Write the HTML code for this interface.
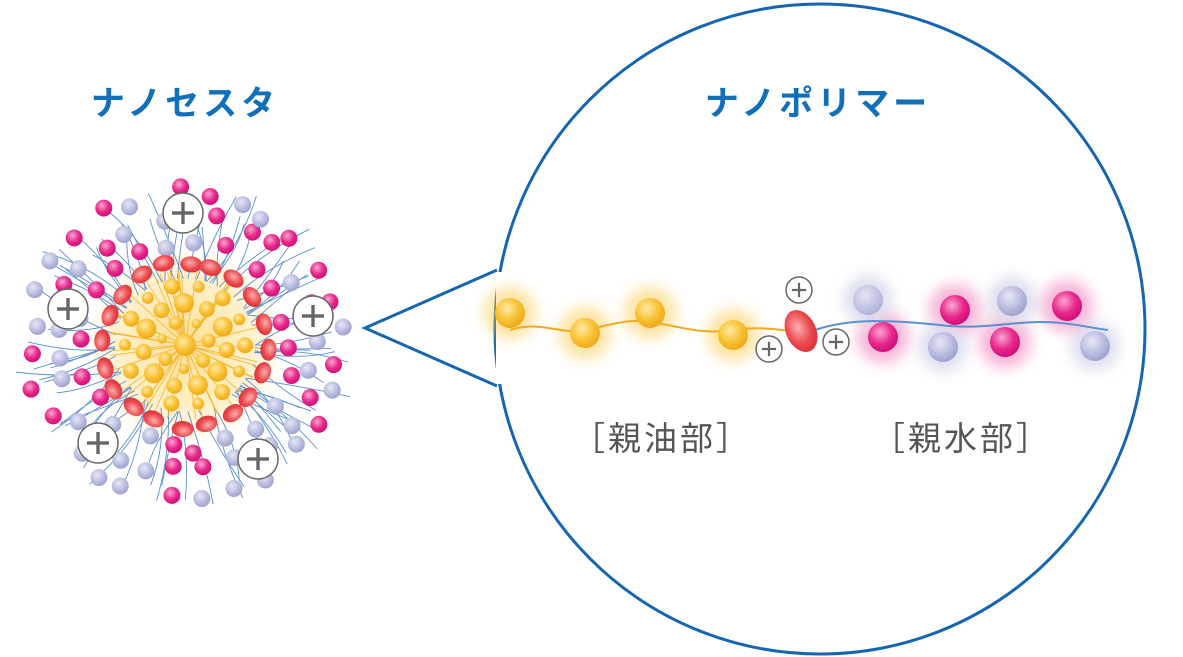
<!DOCTYPE html>
<html><head><meta charset="utf-8"><style>
html,body{margin:0;padding:0;background:#fff;width:1183px;height:657px;overflow:hidden}
svg{display:block}
.t{font-family:"Liberation Sans","Noto Sans CJK JP",sans-serif;}
</style></head><body>
<svg id="s" width="1183" height="657" viewBox="0 0 1183 657" xmlns="http://www.w3.org/2000/svg">
<defs>
<radialGradient id="gy" cx="40%" cy="35%" r="65%"><stop offset="0" stop-color="#ffe9a8"/><stop offset=".6" stop-color="#f9c233"/><stop offset="1" stop-color="#eeaa1a"/></radialGradient>
<radialGradient id="gr" cx="45%" cy="40%" r="65%"><stop offset="0" stop-color="#fbb0b0"/><stop offset=".6" stop-color="#ec4a4e"/><stop offset="1" stop-color="#d62d36"/></radialGradient>
<radialGradient id="gp" cx="40%" cy="35%" r="65%"><stop offset="0" stop-color="#f9a8d0"/><stop offset=".6" stop-color="#e8288a"/><stop offset="1" stop-color="#d0107a"/></radialGradient>
<radialGradient id="gb" cx="40%" cy="35%" r="65%"><stop offset="0" stop-color="#e6e8f6"/><stop offset=".7" stop-color="#b4b7dc"/><stop offset="1" stop-color="#9fa3d0"/></radialGradient>
<radialGradient id="glow" cx="50%" cy="50%" r="50%"><stop offset="0" stop-color="#fbd060" stop-opacity=".7"/><stop offset=".7" stop-color="#fbd060" stop-opacity=".3"/><stop offset="1" stop-color="#fbd060" stop-opacity="0"/></radialGradient>
<filter id="bl" x="-50%" y="-50%" width="200%" height="200%"><feGaussianBlur stdDeviation="7"/></filter>
</defs>
<circle cx="820" cy="329" r="325" fill="#fff" stroke="#1565b0" stroke-width="3"/>
<polyline points="497,270 365,328 497,386" fill="none" stroke="#1565b0" stroke-width="3"/>
<line x1="499" y1="272" x2="499" y2="384" stroke="#fff" stroke-width="6"/>
<text class="t" x="185" y="115" font-size="34" fill="#1170b8" text-anchor="middle" letter-spacing="4" font-weight="bold">ナノセスタ</text>
<text class="t" x="818" y="115" font-size="34" fill="#1170b8" text-anchor="middle" letter-spacing="4" font-weight="bold">ナノポリマー</text>
<text class="t" x="662" y="450" font-size="33" fill="#555" text-anchor="middle" letter-spacing="3">［親油部］</text>
<text class="t" x="962" y="450" font-size="33" fill="#555" text-anchor="middle" letter-spacing="3">［親水部］</text>
<g id="sphere"></g>
<g id="chain">
<g filter="url(#bl)" opacity=".45">
<circle cx="510" cy="313" r="26" fill="#f9c233"/><circle cx="585" cy="333" r="26" fill="#f9c233"/>
<circle cx="650" cy="313" r="26" fill="#f9c233"/><circle cx="733" cy="335" r="26" fill="#f9c233"/>
<circle cx="883" cy="337" r="26" fill="#ee5aa8"/><circle cx="955" cy="310" r="26" fill="#ee5aa8"/>
<circle cx="1005" cy="342" r="26" fill="#ee5aa8"/><circle cx="1067" cy="306" r="26" fill="#ee5aa8"/>
<circle cx="943" cy="347" r="24" fill="#b4b7dc"/><circle cx="1095" cy="346" r="24" fill="#b4b7dc"/>
<circle cx="868" cy="300" r="24" fill="#b4b7dc"/><circle cx="1012" cy="301" r="24" fill="#b4b7dc"/>
</g>
<path d="M510,330 C540,320 560,335 585,330 C610,325 630,318 650,322 C680,326 700,335 732,330 C760,326 780,330 800,332" fill="none" stroke="#f2a820" stroke-width="2"/>
<path d="M815,330 C850,318 890,320 940,325 C980,330 1010,322 1040,322 C1070,322 1090,328 1108,330" fill="none" stroke="#5b8fd0" stroke-width="2"/>
<circle cx="510" cy="313" r="15" fill="url(#gy)"/>
<circle cx="585" cy="333" r="15" fill="url(#gy)"/>
<circle cx="650" cy="313" r="15" fill="url(#gy)"/>
<circle cx="733" cy="335" r="15" fill="url(#gy)"/>
<circle cx="868" cy="300" r="15" fill="url(#gb)" opacity=".75"/>
<circle cx="1012" cy="301" r="15" fill="url(#gb)"/>
<circle cx="943" cy="347" r="15" fill="url(#gb)"/>
<circle cx="1095" cy="346" r="15" fill="url(#gb)"/>
<circle cx="883" cy="337" r="15" fill="url(#gp)"/>
<circle cx="955" cy="310" r="15" fill="url(#gp)"/>
<circle cx="1005" cy="342" r="15" fill="url(#gp)"/>
<circle cx="1067" cy="306" r="15" fill="url(#gp)"/>
<ellipse cx="801" cy="331" rx="15" ry="22" transform="rotate(-25 801 331)" fill="url(#gr)"/>
</g>
<g id="plus"></g>
</svg>
<script>
(function(){
var NS="http://www.w3.org/2000/svg";
var seed=11;function r(){seed=(seed*16807)%2147483647;return (seed-1)/2147483646;}
var sp=document.getElementById('sphere');
function el(n,a,p){var e=document.createElementNS(NS,n);for(var k in a)e.setAttribute(k,a[k]);(p||sp).appendChild(e);return e;}
var cx=185,cy=345;
el('circle',{cx:cx,cy:cy,r:100,fill:'url(#glow)'});
for(var i=0;i<90;i++){var a=r()*6.283,L=125+r()*50,c=Math.cos(a),s=Math.sin(a),b=(r()-.5)*0.5;
var x1=cx+c*70,y1=cy+s*70*0.95,x2=cx+Math.cos(a+b)*L,y2=cy+Math.sin(a+b)*L*0.95;
var mx=(x1+x2)/2+(r()-.5)*20,my=(y1+y2)/2+(r()-.5)*20;
el('path',{d:'M'+x1+','+y1+' Q'+mx+','+my+' '+x2+','+y2,fill:'none',stroke:'#5a8fd0','stroke-width':0.9});}
// outer balls on rings, spaced
var rings=[[105,22],[130,26],[155,28]];
rings.forEach(function(q,k){for(var j=0;j<q[1];j++){var a=j/q[1]*6.283+k*0.4+(r()-.5)*0.15,d=q[0]+(r()-.5)*14;
var x=cx+Math.cos(a)*d,y=cy+Math.sin(a)*d*0.98;if(y<180||y>515||x<8)continue;
el('circle',{cx:x,cy:y,r:8.5,fill:r()<0.5?'url(#gp)':'url(#gb)'});}});
for(var i=0;i<40;i++){var a=r()*6.283;el('line',{x1:cx,y1:cy,x2:cx+Math.cos(a)*75,y2:cy+Math.sin(a)*75,stroke:'#f3b52a','stroke-width':0.8});}
for(var i=0;i<20;i++){var a=i/20*6.283+r()*0.1,d=80+r()*5;var x=cx+Math.cos(a)*d,y=cy+Math.sin(a)*d;
el('ellipse',{cx:x,cy:y,rx:11,ry:8,transform:'rotate('+(a*57.3+90)+' '+x+' '+y+')',fill:'url(#gr)'});}
var ring=[[0,1,11],[24,7,7],[42,11,10],[60,14,8]];
ring.forEach(function(q){for(var j=0;j<q[1];j++){var a=j/q[1]*6.283+q[0]*0.03;el('circle',{cx:cx+Math.cos(a)*q[0],cy:cy+Math.sin(a)*q[0],r:q[2]-(j%2)*2,fill:'url(#gy)'});}});
var pl=document.getElementById('plus');
function plus(x,y,R){el('circle',{cx:x,cy:y,r:R,fill:'#fff',stroke:'#666','stroke-width':1.5},pl);
var w=R*0.55,t=R*0.17;el('rect',{x:x-w,y:y-t/2,width:2*w,height:t,fill:'#666'},pl);el('rect',{x:x-t/2,y:y-w,width:t,height:2*w,fill:'#666'},pl);}
plus(183,213,20);plus(68,309,20);plus(313,316,20);plus(98,443,20);plus(258,459,20);
plus(799,290,13);plus(769,349,13);plus(836,342,13);
})();
</script>
</body></html>
